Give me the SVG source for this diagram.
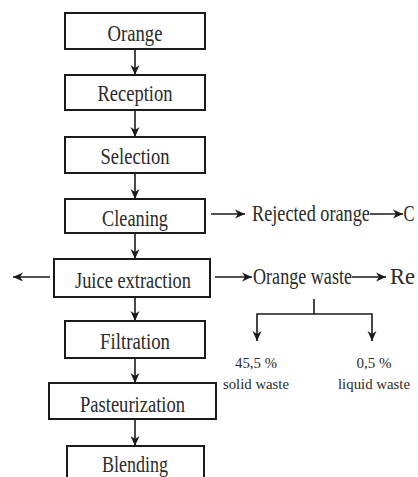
<svg xmlns="http://www.w3.org/2000/svg" width="418" height="477" viewBox="0 0 418 477">
<defs>
<marker id="ah" markerUnits="userSpaceOnUse" markerWidth="10" markerHeight="10" refX="10" refY="5" orient="auto">
<path d="M0,0.5 L10,5 L0,9.5 L3,5 z" fill="#1a1a1a"/>
</marker>
<style>
.box{fill:#fff;stroke:#1a1a1a;stroke-width:2}
.ln{fill:none;stroke:#1a1a1a;stroke-width:1.6}
.ar{fill:none;stroke:#1a1a1a;stroke-width:1.6;marker-end:url(#ah)}
.t{font-family:"Liberation Serif","Times New Roman",serif;font-size:24px;fill:#2a2a2a;text-anchor:middle}
.l{font-family:"Liberation Serif","Times New Roman",serif;font-size:24px;fill:#2a2a2a}
.s{font-family:"Liberation Serif","Times New Roman",serif;font-size:15px;fill:#2a2a2a;text-anchor:middle}
</style>
</defs>
<rect width="418" height="477" fill="#fff"/>
<g id="connectors">
<line class="ar" x1="135" y1="49" x2="135" y2="75"/>
<line class="ar" x1="135" y1="110" x2="135" y2="137"/>
<line class="ar" x1="135" y1="173" x2="135" y2="199"/>
<line class="ar" x1="135" y1="233" x2="135" y2="259"/>
<line class="ar" x1="135" y1="297" x2="135" y2="321"/>
<line class="ar" x1="135" y1="358" x2="135" y2="383"/>
<line class="ar" x1="135" y1="419" x2="135" y2="446"/>
<line class="ar" x1="50" y1="277" x2="13" y2="277"/>
<line class="ar" x1="211" y1="214" x2="245" y2="214"/>
<line class="ar" x1="370" y1="214" x2="403" y2="214"/>
<line class="ar" x1="215" y1="277" x2="252" y2="277"/>
<line class="ar" x1="352" y1="277" x2="386" y2="277"/>
<polyline class="ln" points="314,299 314,314"/>
<polyline class="ar" points="314,314 257,314 257,341"/>
<polyline class="ar" points="314,314 372,314 372,341"/>
</g>
<g id="orange"><rect class="box" x="65" y="13" width="140" height="36"/><text class="t" x="135" y="40.5" textLength="55" lengthAdjust="spacingAndGlyphs">Orange</text></g>
<g id="reception"><rect class="box" x="65" y="75" width="140" height="35"/><text class="t" x="135" y="101" textLength="75" lengthAdjust="spacingAndGlyphs">Reception</text></g>
<g id="selection"><rect class="box" x="65" y="137" width="140" height="36"/><text class="t" x="135" y="164" textLength="69" lengthAdjust="spacingAndGlyphs">Selection</text></g>
<g id="cleaning"><rect class="box" x="65" y="199" width="140" height="34"/><text class="t" x="135" y="226" textLength="66" lengthAdjust="spacingAndGlyphs">Cleaning</text></g>
<g id="juice"><rect class="box" x="54" y="259" width="156" height="38"/><text class="t" x="133" y="288" textLength="116" lengthAdjust="spacingAndGlyphs">Juice extraction</text></g>
<g id="filtration"><rect class="box" x="65" y="321" width="140" height="37"/><text class="t" x="135" y="348.5" textLength="70" lengthAdjust="spacingAndGlyphs">Filtration</text></g>
<g id="pasteurization"><rect class="box" x="49" y="383" width="167" height="36"/><text class="t" x="132.5" y="411.5" textLength="105" lengthAdjust="spacingAndGlyphs">Pasteurization</text></g>
<g id="blending"><rect class="box" x="67" y="446" width="137" height="40"/><text class="t" x="135" y="472" textLength="66" lengthAdjust="spacingAndGlyphs">Blending</text></g>
<g id="rejected" transform="translate(252,221) scale(0.76,1)"><text class="l" x="0" y="0">Rejected orange</text></g>
<g id="c-label"><text class="l" x="403.5" y="221" textLength="11" lengthAdjust="spacingAndGlyphs">C</text></g>
<g id="orange-waste"><text class="l" x="253" y="284" textLength="99" lengthAdjust="spacingAndGlyphs">Orange waste</text></g>
<g id="re-label"><text class="l" x="390" y="284" textLength="25" lengthAdjust="spacingAndGlyphs">Re</text></g>
<g id="solid"><text class="s" x="256" y="368" textLength="42" lengthAdjust="spacingAndGlyphs">45,5 %</text><text class="s" x="256" y="389" textLength="66" lengthAdjust="spacingAndGlyphs">solid waste</text></g>
<g id="liquid"><text class="s" x="374" y="368" textLength="35" lengthAdjust="spacingAndGlyphs">0,5 %</text><text class="s" x="374" y="389" textLength="72" lengthAdjust="spacingAndGlyphs">liquid waste</text></g>
</svg>
